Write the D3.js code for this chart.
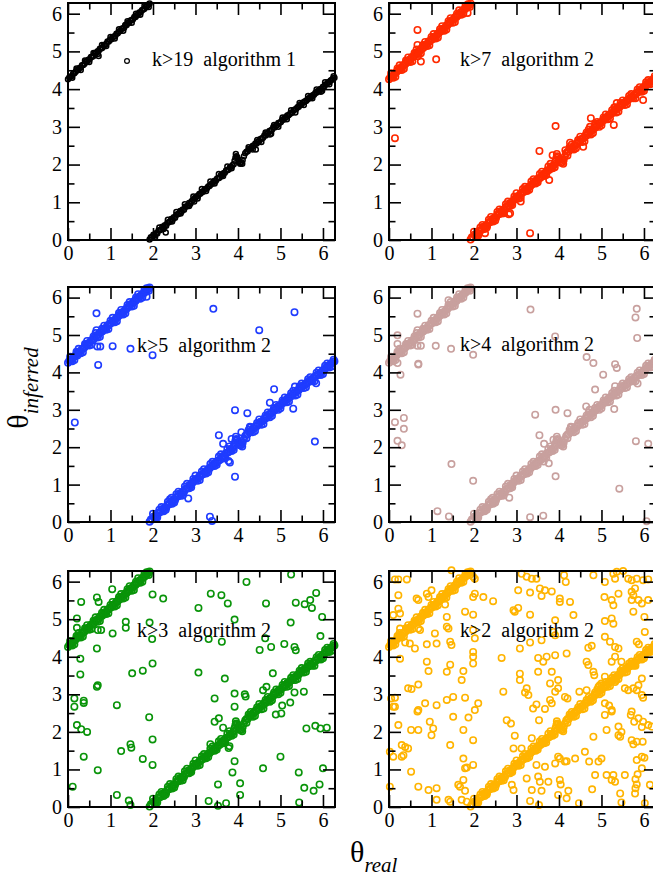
<!DOCTYPE html>
<html><head><meta charset="utf-8">
<script src="https://cdn.jsdelivr.net/npm/d3@7"></script>
<style>
body{margin:0;background:#fff}
svg{display:block}
text{font-family:"Liberation Serif","Times New Roman",serif}
</style>
</head><body>
<svg id="c" width="653" height="879"></svg>
<script>
// ---------- data ----------
const majorTicks = [0,1,2,3,4,5,6];
const minorTicks = [0.5,1.5,2.5,3.5,4.5,5.5];
const thetaMax = 6.2832;
const panelLabels = ["k>19  algorithm 1","k>7  algorithm 2","k>5  algorithm 2","k>4  algorithm 2","k>3  algorithm 2","k>2  algorithm 2"];
const xTitle = ["θ","real"];
const yTitle = ["θ","inferred"];

// main band (lower branch), [theta_real, theta_inferred]
const bandLower = [[1.92,0.01],[1.95,0.07],[1.98,0.07],[2.01,0.14],[2.04,0.12],[2.07,0.18],[2.10,0.17],[2.13,0.25],[2.16,0.26],[2.19,0.28],[2.22,0.35],[2.25,0.33],[2.28,0.39],[2.31,0.38],[2.34,0.46],[2.37,0.47],[2.40,0.49],[2.43,0.56],[2.46,0.54],[2.49,0.60],[2.52,0.59],[2.55,0.67],[2.58,0.68],[2.61,0.70],[2.64,0.77],[2.67,0.75],[2.70,0.81],[2.73,0.80],[2.76,0.88],[2.79,0.89],[2.82,0.91],[2.85,0.98],[2.88,0.96],[2.91,1.03],[2.94,1.06],[2.97,1.10],[3.00,1.13],[3.03,1.15],[3.06,1.17],[3.09,1.22],[3.12,1.23],[3.15,1.27],[3.18,1.28],[3.21,1.33],[3.24,1.35],[3.27,1.37],[3.30,1.42],[3.33,1.43],[3.36,1.47],[3.39,1.50],[3.42,1.53],[3.45,1.57],[3.48,1.57],[3.51,1.63],[3.54,1.64],[3.57,1.66],[3.60,1.72],[3.63,1.72],[3.66,1.77],[3.69,1.78],[3.72,1.84],[3.75,1.85],[3.78,1.87],[3.81,1.93],[3.84,1.94],[3.87,1.98],[3.90,2.01],[3.92,2.10],[3.94,2.18],[3.96,2.22],[3.98,2.20],[4.00,2.14],[4.02,2.08],[4.05,2.05],[4.08,2.06],[4.11,2.12],[4.14,2.22],[4.17,2.30],[4.20,2.34],[4.23,2.35],[4.26,2.41],[4.29,2.42],[4.32,2.44],[4.35,2.50],[4.38,2.50],[4.41,2.56],[4.44,2.56],[4.47,2.61],[4.50,2.62],[4.53,2.68],[4.56,2.69],[4.59,2.71],[4.62,2.77],[4.65,2.77],[4.68,2.83],[4.71,2.83],[4.74,2.89],[4.77,2.90],[4.80,2.92],[4.83,2.99],[4.86,2.98],[4.89,3.03],[4.92,3.04],[4.95,3.10],[4.98,3.11],[5.01,3.13],[5.04,3.19],[5.07,3.19],[5.10,3.24],[5.13,3.25],[5.16,3.30],[5.19,3.31],[5.22,3.34],[5.25,3.37],[5.28,3.38],[5.31,3.44],[5.34,3.46],[5.37,3.47],[5.40,3.52],[5.43,3.53],[5.46,3.58],[5.49,3.59],[5.52,3.64],[5.55,3.65],[5.58,3.68],[5.61,3.69],[5.64,3.74],[5.67,3.75],[5.70,3.79],[5.73,3.79],[5.76,3.84],[5.79,3.85],[5.82,3.90],[5.85,3.91],[5.88,3.95],[5.91,3.95],[5.94,4.00],[5.97,4.01],[6.00,4.06],[6.03,4.07],[6.06,4.12],[6.09,4.13],[6.12,4.18],[6.15,4.19],[6.18,4.23],[6.21,4.25],[6.24,4.28],[6.27,4.30]];

// main band (upper branch)
const bandUpper = [[0.00,4.26],[0.03,4.31],[0.06,4.33],[0.09,4.35],[0.12,4.41],[0.15,4.42],[0.18,4.46],[0.21,4.51],[0.24,4.51],[0.27,4.56],[0.30,4.57],[0.33,4.63],[0.36,4.64],[0.39,4.67],[0.42,4.73],[0.45,4.73],[0.48,4.78],[0.51,4.79],[0.54,4.85],[0.57,4.86],[0.60,4.88],[0.63,4.95],[0.66,4.95],[0.69,5.00],[0.72,5.01],[0.75,5.07],[0.78,5.08],[0.81,5.10],[0.84,5.16],[0.87,5.17],[0.90,5.20],[0.93,5.26],[0.96,5.26],[0.99,5.31],[1.02,5.32],[1.05,5.38],[1.08,5.39],[1.11,5.41],[1.14,5.47],[1.17,5.48],[1.20,5.53],[1.23,5.54],[1.26,5.60],[1.29,5.61],[1.32,5.63],[1.35,5.69],[1.38,5.70],[1.41,5.75],[1.44,5.76],[1.47,5.82],[1.50,5.83],[1.53,5.85],[1.56,5.91],[1.59,5.91],[1.62,5.96],[1.65,5.98],[1.68,6.03],[1.71,6.04],[1.74,6.09],[1.77,6.11],[1.80,6.13],[1.83,6.19],[1.86,6.20],[1.89,6.24],[1.92,6.27]];

// near-band scatter, close to the line (all panels)
const bandNear = [[2.05,0.08],[2.15,0.33],[2.25,0.29],[2.35,0.54],[2.45,0.49],[2.55,0.74],[2.65,0.70],[2.75,0.95],[2.85,0.90],[2.95,1.15],[3.05,1.10],[3.15,1.35],[3.25,1.30],[3.35,1.55],[3.45,1.50],[3.55,1.75],[3.65,1.70],[3.75,1.95],[3.85,1.90],[3.95,2.28],[4.10,2.02],[4.25,2.46],[4.35,2.40],[4.45,2.65],[4.55,2.60],[4.65,2.85],[4.75,2.80],[4.85,3.05],[4.95,3.00],[5.05,3.25],[5.15,3.20],[5.25,3.44],[5.35,3.38],[5.45,3.63],[5.55,3.58],[5.65,3.82],[5.75,3.76],[5.85,3.99],[5.95,3.93],[6.05,4.18],[6.15,4.13],[6.25,4.34],[0.10,4.30],[0.20,4.55],[0.30,4.51],[0.40,4.76],[0.50,4.72],[0.60,4.96],[0.70,4.93],[0.80,5.17],[0.90,5.14],[1.00,5.38],[1.10,5.34],[1.20,5.59],[1.30,5.55],[1.40,5.80],[1.50,5.76],[1.60,6.00],[1.70,5.97],[1.80,6.21],[1.90,6.18]];

// wider spread of the band seen in the algorithm-2 panels
const bandSpread = [[2.00,0.22],[2.10,0.12],[2.20,0.40],[2.30,0.33],[2.40,0.61],[2.50,0.52],[2.60,0.81],[2.70,0.71],[2.80,1.02],[2.90,0.93],[3.00,1.24],[3.10,1.12],[3.20,1.41],[3.30,1.33],[3.40,1.61],[3.50,1.53],[3.60,1.81],[3.70,1.72],[3.80,2.02],[3.90,1.93],[4.05,2.14],[4.20,2.24],[4.30,2.53],[4.40,2.43],[4.50,2.74],[4.60,2.62],[4.70,2.93],[4.80,2.84],[4.90,3.13],[5.00,3.04],[5.10,3.33],[5.20,3.22],[5.30,3.51],[5.40,3.41],[5.50,3.70],[5.60,3.60],[5.70,3.87],[5.80,3.76],[5.90,4.05],[6.00,3.96],[6.10,4.24],[6.20,4.16],[0.05,4.42],[0.15,4.33],[0.25,4.63],[0.35,4.54],[0.45,4.84],[0.55,4.74],[0.65,5.05],[0.75,4.95],[0.85,5.25],[0.95,5.16],[1.05,5.46],[1.15,5.37],[1.25,5.67],[1.35,5.58],[1.45,5.88],[1.55,5.78],[1.65,6.09],[1.75,6.00],[1.85,6.25]];

// off-band points, per panel
const outK19 = [[0.72,4.88],[2.30,0.20],[2.97,1.02],[4.42,2.40],[4.78,2.82],[5.98,3.96],[1.35,5.70],[4.05,2.02]];
const outK7 = [[0.67,5.57],[0.67,5.17],[0.68,4.87],[0.75,4.73],[1.11,4.79],[0.14,2.70],[1.85,6.02],[3.92,3.02],[3.54,2.36],[3.77,1.59],[3.32,0.18],[4.75,3.23],[4.73,3.00],[5.29,3.05],[5.36,3.63],[5.32,3.52],[4.26,2.58],[3.85,2.25],[2.85,0.71],[2.82,0.68],[5.98,3.71],[4.57,2.47],[2.26,0.18],[4.15,2.38],[3.10,1.02],[4.85,3.08]];
const outK5 = [[0.67,5.58],[0.67,5.13],[0.69,4.69],[0.76,4.69],[0.71,4.20],[1.05,4.70],[1.47,4.63],[1.99,4.46],[0.16,2.66],[3.42,5.70],[4.50,5.13],[5.33,5.61],[3.93,2.99],[4.22,2.91],[3.55,2.32],[3.65,2.09],[3.81,1.59],[3.78,1.63],[3.93,1.21],[3.34,0.14],[3.39,0.03],[4.85,3.55],[4.75,3.19],[5.30,3.03],[5.34,3.62],[5.81,2.15],[5.84,3.71],[2.83,0.63],[2.44,0.65],[4.28,2.55],[1.85,6.02],[0.22,4.45],[3.85,2.22],[4.08,2.40]];
const outK4 = [[0.67,5.57],[0.20,4.99],[0.20,4.76],[0.20,4.25],[0.27,3.94],[0.69,4.21],[0.69,4.23],[0.75,4.71],[0.67,4.71],[1.10,4.71],[1.46,4.63],[1.98,4.47],[1.40,5.93],[0.14,2.67],[0.35,2.78],[0.35,2.49],[0.20,2.17],[0.30,2.05],[1.47,1.55],[1.98,1.10],[1.14,0.29],[1.41,0.15],[3.33,5.68],[3.91,4.96],[3.44,2.87],[3.92,3.00],[4.20,2.91],[3.54,2.32],[3.65,2.09],[3.87,2.20],[3.76,1.57],[3.92,1.22],[3.32,0.13],[3.63,0.17],[4.81,4.25],[4.65,4.41],[5.04,3.94],[4.85,3.54],[4.64,3.09],[4.72,3.00],[5.32,4.22],[5.36,4.12],[5.32,3.63],[5.30,3.02],[5.83,5.70],[5.80,5.47],[5.84,4.92],[5.81,2.16],[6.10,2.09],[5.42,0.89],[6.06,0.02],[2.44,0.65],[2.83,0.65],[4.28,2.55],[0.67,5.13],[3.64,1.62],[5.85,3.70]];
const outK3 = [[0.31,5.46],[0.68,5.58],[0.72,5.46],[0.21,5.02],[0.21,4.77],[0.70,4.71],[0.78,4.71],[1.04,5.80],[1.05,4.62],[1.36,4.93],[1.36,4.77],[1.92,4.91],[1.99,5.66],[2.24,5.55],[1.98,4.47],[0.29,3.95],[0.68,4.22],[0.29,3.53],[1.51,3.56],[1.76,3.63],[1.99,3.82],[3.07,5.30],[3.36,5.68],[3.61,5.64],[3.76,5.42],[3.07,3.58],[3.31,4.47],[3.62,4.40],[3.92,4.99],[4.20,5.99],[3.69,3.42],[4.66,5.42],[4.51,4.18],[4.64,4.49],[4.78,4.26],[4.82,3.56],[5.25,6.19],[5.24,4.91],[5.09,4.34],[5.33,4.26],[5.36,4.17],[5.36,5.44],[5.57,5.40],[5.70,5.51],[5.74,5.30],[5.84,5.70],[5.98,5.06],[5.94,4.55],[0.68,3.20],[0.70,3.24],[0.15,2.89],[0.15,2.67],[0.37,2.83],[0.37,2.77],[0.21,2.18],[0.31,2.07],[0.45,2.00],[0.37,1.34],[0.70,0.98],[0.11,0.54],[1.15,2.71],[1.91,2.39],[1.99,1.80],[1.47,1.67],[1.49,1.58],[1.25,1.49],[1.76,1.28],[1.99,1.12],[1.15,0.32],[1.43,0.17],[1.47,0.05],[3.45,2.89],[3.92,3.02],[4.16,3.00],[4.18,2.94],[3.92,2.67],[3.45,2.27],[3.55,2.36],[3.65,2.11],[3.35,1.67],[3.80,1.62],[3.78,1.57],[3.92,1.22],[3.87,0.92],[4.05,0.63],[4.05,0.32],[3.53,0.60],[3.31,0.16],[3.53,0.03],[3.72,0.10],[4.59,3.11],[4.67,3.20],[5.04,2.70],[4.89,2.46],[5.02,2.49],[5.23,2.78],[5.33,3.05],[5.00,1.34],[4.59,1.03],[5.43,0.92],[5.56,0.51],[5.78,0.43],[5.92,0.60],[6.00,1.03],[5.44,0.12],[5.61,2.09],[5.82,2.16],[5.94,2.09],[6.09,2.11],[5.55,3.07]];
const outK2 = [[0.14,6.06],[0.22,6.06],[0.42,6.06],[1.47,6.30],[1.98,6.13],[2.02,6.08],[3.12,6.21],[3.24,6.13],[3.36,6.08],[3.47,6.08],[4.12,6.17],[4.16,5.99],[4.81,6.17],[5.08,5.99],[5.28,6.21],[5.36,6.26],[5.32,6.08],[5.51,6.28],[5.63,6.08],[5.71,6.04],[5.83,6.08],[5.98,6.04],[6.10,6.06],
[0.22,5.64],[1.00,5.77],[0.93,5.59],[0.65,5.55],[0.69,5.51],[0.89,5.68],[1.98,5.59],[2.02,5.68],[2.22,5.59],[2.45,5.48],[3.04,5.77],[3.32,5.71],[3.55,5.82],[3.67,5.77],[3.83,5.74],[3.59,5.62],[4.02,5.55],[4.02,5.46],[4.26,5.46],[5.07,5.59],[5.24,5.51],[5.28,5.37],[5.40,5.68],[5.71,5.73],[5.75,5.64],[5.71,5.51],[5.87,5.51],[5.95,5.42],[6.10,5.51],[5.79,5.82],
[0.22,5.28],[0.10,5.11],[0.26,5.15],[1.32,5.39],[1.36,5.06],[1.79,5.20],[1.98,5.12],[2.93,5.24],[2.96,5.20],[3.04,5.30],[3.32,5.12],[3.91,4.97],[4.34,5.11],[5.08,4.95],[5.24,5.02],[5.28,4.88],[5.75,5.20],[6.01,5.06],
[0.26,4.75],[0.69,4.75],[0.73,4.71],[1.08,4.62],[1.36,4.80],[1.40,4.75],[1.44,4.40],[1.47,4.31],[1.98,4.71],[2.02,4.49],[1.98,4.13],[0.38,4.38],[0.49,4.35],[0.89,4.33],[0.61,4.22],[1.12,4.35],[3.08,4.22],[3.32,4.38],[3.59,4.44],[3.87,4.66],[3.91,4.57],[4.69,4.24],[4.77,4.29],[5.08,4.53],[5.20,4.40],[5.32,4.26],[5.40,4.22],[5.83,4.40],[5.88,4.33],[6.02,4.66],
[0.26,3.95],[0.89,3.87],[0.93,3.62],[1.44,3.79],[1.98,4.00],[1.98,3.82],[1.75,3.62],[1.36,3.60],[0.45,3.16],[0.69,3.26],[1.71,3.38],[2.65,3.97],[3.08,3.55],[3.08,3.38],[3.51,3.97],[3.63,3.87],[3.71,4.00],[3.91,4.04],[3.51,3.60],[3.83,3.60],[4.18,4.09],[3.98,3.38],[4.65,3.87],[4.69,3.78],[4.81,3.60],[4.83,3.51],[5.24,3.87],[5.32,4.00],[5.47,3.87],[5.71,3.87],[5.79,3.78],[5.08,3.47],[3.79,3.29],[5.32,3.33],[5.87,3.24],[5.95,3.42],[5.00,3.29],
[0.53,3.14],[0.05,2.89],[0.14,2.91],[0.14,2.67],[0.10,2.67],[0.85,2.76],[0.69,2.58],[0.67,2.54],[1.12,2.71],[1.36,2.85],[1.51,2.93],[1.79,2.91],[2.10,2.76],[2.02,2.58],[1.87,2.38],[2.69,3.07],[3.24,3.16],[3.20,3.05],[3.28,2.98],[3.47,2.73],[3.39,2.62],[3.67,2.61],[3.53,2.31],[3.79,2.85],[3.83,2.76],[3.91,3.07],[3.98,3.16],[4.14,2.93],[4.20,2.89],[4.48,3.07],[4.65,3.11],[4.93,3.20],[4.96,3.24],[5.08,2.76],[5.18,2.70],[5.24,2.58],[5.24,2.54],[5.08,2.45],[5.55,3.16],[5.63,3.11],[5.75,3.16],[5.83,3.11],[5.95,2.98],[5.98,2.91],[5.71,2.54],[5.69,2.45],[5.77,2.27],[5.87,2.36],[5.98,2.27],[6.10,2.18],[5.95,2.13],[6.18,2.14],
[0.22,2.18],[0.52,2.05],[0.69,2.05],[0.96,2.27],[1.04,2.09],[1.00,1.91],[1.44,1.65],[1.51,2.40],[1.75,2.05],[1.98,1.78],[0.02,1.47],[0.10,1.34],[0.30,1.34],[0.34,1.38],[0.38,1.60],[0.45,1.56],[0.30,1.65],[0.52,0.94],[1.75,1.29],[1.79,1.03],[1.83,1.05],[1.98,1.12],[2.77,2.31],[2.87,2.22],[2.96,1.90],[3.12,1.56],[2.93,1.56],[3.36,1.83],[3.59,1.74],[3.47,1.12],[3.67,1.07],[3.91,1.16],[3.98,1.34],[4.02,1.29],[4.14,1.21],[4.18,1.22],[4.38,1.29],[4.61,1.47],[4.71,1.21],[4.81,1.87],[4.93,1.21],[5.00,1.29],[4.85,0.85],[5.12,2.05],[5.40,1.91],[5.44,1.87],[5.47,2.00],[5.71,1.78],[5.75,1.67],[5.83,1.74],[5.97,1.74],[5.95,1.34],[6.01,1.31],[5.83,1.25],[5.95,1.03],[5.12,0.85],[5.28,0.85],[5.55,0.85],[5.85,0.87],[5.40,2.14],
[0.02,0.54],[0.69,0.54],[0.93,0.45],[1.12,0.50],[1.12,0.19],[1.40,0.19],[1.44,0.14],[1.67,0.54],[1.63,0.59],[1.75,0.72],[1.79,0.43],[1.71,0.19],[1.83,0.14],[2.89,0.59],[2.93,0.45],[3.24,0.76],[3.51,0.81],[3.55,0.67],[3.36,0.45],[3.59,0.43],[3.32,0.16],[3.53,0.05],[3.75,0.67],[4.02,0.72],[4.04,0.60],[3.98,0.32],[4.18,0.23],[4.22,0.43],[4.47,0.10],[4.78,0.47],[5.24,0.72],[5.32,0.67],[5.44,0.36],[5.47,0.12],[5.80,0.74],[5.83,0.60],[5.80,0.50],[5.79,0.36],[6.02,0.10],[6.14,0.59]];

// ---------- layout ----------
const cols = [[68,335],[389,656]];
const rows = [[3,240],[287,522],[571,807]];
const panels = [
  {label:panelLabels[0], out:outK19, color:"#000000", spread:false, r:2.5, sw:1.5, col:0, row:0, lx:152, ly:66, sym:true},
  {label:panelLabels[1], out:outK7,  color:"#ff2a00", spread:true,  r:3.2, sw:1.6, col:1, row:0, lx:460, ly:66},
  {label:panelLabels[2], out:outK5,  color:"#1f3cff", spread:true,  r:3.2, sw:1.6, col:0, row:1, lx:137, ly:352},
  {label:panelLabels[3], out:outK4,  color:"#c8a09e", spread:true,  r:3.2, sw:1.6, col:1, row:1, lx:460, ly:351},
  {label:panelLabels[4], out:outK3,  color:"#099409", spread:true,  r:3.2, sw:1.6, col:0, row:2, lx:137, ly:637},
  {label:panelLabels[5], out:outK2,  color:"#ffb400", spread:true,  r:3.2, sw:1.6, col:1, row:2, lx:460, ly:637}
];

const svg = d3.select("#c");
svg.append("rect").attr("width",653).attr("height",879).attr("fill","#fff");
const serif = '"Liberation Serif","Times New Roman",serif';

panels.forEach(p => {
  const [x0,x1] = cols[p.col], [y0,y1] = rows[p.row];
  const x = d3.scaleLinear().domain([0,thetaMax]).range([x0,x1]);
  const y = d3.scaleLinear().domain([0,thetaMax]).range([y1,y0]);
  const g = svg.append("g");

  const pts = bandLower.concat(bandUpper, bandNear, p.spread ? bandSpread : [], p.out);
  g.append("g").selectAll("circle").data(pts).join("circle")
    .attr("cx", d => x(d[0])).attr("cy", d => y(d[1]))
    .attr("r", p.r).attr("fill","none").attr("stroke",p.color).attr("stroke-width",p.sw);

  const addAxis = (gen, tx, ty, vals, size, labels) => {
    const a = gen.tickValues(vals).tickSize(-size).tickSizeOuter(0)
      .tickFormat(labels ? d3.format("d") : "");
    const ag = g.append("g").attr("transform",`translate(${tx},${ty})`).call(a)
      .attr("font-family", serif).attr("font-size", 20);
    ag.select(".domain").remove();
    ag.selectAll("line").attr("stroke","#000").attr("stroke-width",1.6);
    ag.selectAll("text").attr("fill","#000");
    return ag;
  };
  addAxis(d3.axisBottom(x).tickPadding(5.8), 0, y1, majorTicks, 12, true);
  addAxis(d3.axisBottom(x), 0, y1, minorTicks, 6.5, false);
  addAxis(d3.axisTop(x), 0, y0, majorTicks, 12, false);
  addAxis(d3.axisTop(x), 0, y0, minorTicks, 6.5, false);
  addAxis(d3.axisLeft(y).tickPadding(6), x0, 0, majorTicks, 12, true);
  addAxis(d3.axisLeft(y), x0, 0, minorTicks, 6.5, false);
  addAxis(d3.axisRight(y), x1, 0, majorTicks, 12, false);
  addAxis(d3.axisRight(y), x1, 0, minorTicks, 6.5, false);

  g.append("rect").attr("x",x0).attr("y",y0).attr("width",x1-x0).attr("height",y1-y0)
    .attr("fill","none").attr("stroke","#000").attr("stroke-width",2);

  if (p.sym) g.append("circle").attr("cx",p.lx-25).attr("cy",p.ly-5).attr("r",2.4)
    .attr("fill","none").attr("stroke",p.color).attr("stroke-width",1.2);
  g.append("text").attr("x",p.lx).attr("y",p.ly).attr("font-size",20).attr("fill","#000")
    .attr("font-family", serif).style("white-space","pre").text(p.label);
});

// axis titles
const yt = svg.append("text").attr("transform","translate(28,388) rotate(-90)")
  .attr("text-anchor","middle").attr("fill","#000").attr("font-family", serif);
yt.append("tspan").attr("font-size",30).text(yTitle[0]);
yt.append("tspan").attr("font-size",21).attr("font-style","italic").attr("dy",10).text(yTitle[1]);

const xt = svg.append("text").attr("x",350).attr("y",862).attr("fill","#000").attr("font-family", serif);
xt.append("tspan").attr("font-size",30).text(xTitle[0]);
xt.append("tspan").attr("font-size",21).attr("font-style","italic").attr("dy",10).text(xTitle[1]);
</script>
</body></html>
